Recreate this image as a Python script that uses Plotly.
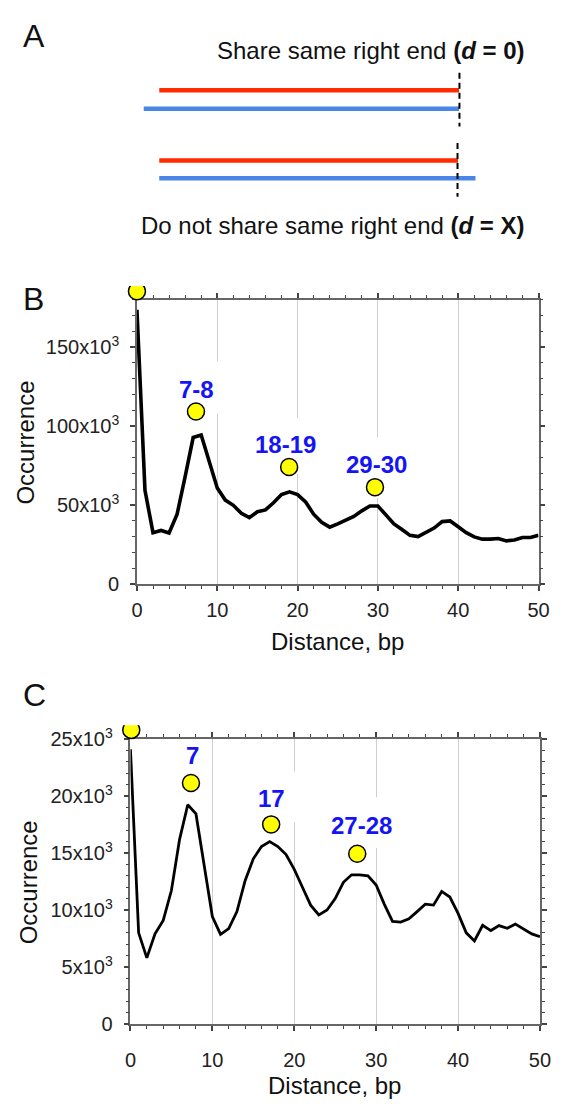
import plotly.graph_objects as go

W, H = 566, 1111
FONT = "Arial, Liberation Sans, Helvetica, sans-serif"

# ---------------- data ----------------
distance = list(range(51))

# Panel B occurrence (x10^3)
occ_B = [173.6, 59.4, 32.6, 34.0, 32.4, 44.3, 68.0, 92.8, 94.4, 77.3,
         60.8, 53.2, 49.9, 44.9, 42.1, 45.8, 47.0, 51.5, 56.7, 58.4,
         56.7, 52.0, 44.3, 39.2, 36.1, 38.1, 40.8, 42.9, 46.4, 49.5,
         49.5, 43.7, 38.1, 34.6, 30.9, 30.1, 32.6, 35.5, 39.6, 40.0,
         36.3, 32.6, 29.9, 28.5, 28.5, 28.9, 27.4, 28.0, 29.5, 29.5, 30.9]

# Panel C occurrence (x10^3)
occ_C = [24.1, 8.0, 5.8, 7.91, 9.09, 11.71, 16.2, 19.23, 18.43, 13.86,
         9.43, 7.86, 8.37, 9.86, 12.57, 14.49, 15.57, 16.0, 15.57, 14.86,
         13.57, 12.0, 10.43, 9.57, 10.0, 11.0, 12.43, 13.09, 13.09, 13.0,
         12.2, 10.5, 9.0, 8.94, 9.23, 9.86, 10.51, 10.43, 11.63, 11.14,
         9.71, 8.0, 7.29, 8.66, 8.2, 8.63, 8.4, 8.77, 8.37, 7.91, 7.66]

# yellow peak markers
peak_x_B = [0, 7.35, 18.95, 29.64]
peak_y_B = [185.4, 109.3, 74.2, 61.4]
peak_x_C = [0.1, 7.39, 17.18, 27.69]
peak_y_C = [25.8, 21.14, 17.51, 14.94]

# peak labels
lab_text_B = ["7-8", "18-19", "29-30"]
lab_x_B = [7.38, 18.46, 29.83]
lab_y_B = [123.3, 88.2, 75.9]
lab_text_C = ["7", "17", "27-28"]
lab_x_C = [7.6, 17.23, 28.16]
lab_y_C = [23.58, 19.8, 17.43]

# ticks
x_ticks = [0, 10, 20, 30, 40, 50]
y_ticks_B = [0, 50, 100, 150]
y_text_B = ["0", "50x10<sup>3</sup>", "100x10<sup>3</sup>", "150x10<sup>3</sup>"]
y_ticks_C = [0, 5, 10, 15, 20, 25]
y_text_C = ["0", "5x10<sup>3</sup>", "10x10<sup>3</sup>", "15x10<sup>3</sup>",
            "20x10<sup>3</sup>", "25x10<sup>3</sup>"]

XR = [0, 50]
YR_B = [0, 180]
YR_C = [0, 25]


def px(x):
    return x / W


def py(y):
    return 1 - y / H


# plot-area pixel boxes (left, right, top, bottom)
BOX_B = (135, 549, 292.3, 583.3)
BOX_C = (128.3, 550.5, 741.7, 1033.3)
PAD = 14  # extra room for overlay axes carrying the peak markers


def overlay_ranges(box, xr, yr):
    l, r, t, b = box
    sx = (xr[1] - xr[0]) / (r - l)
    sy = (yr[1] - yr[0]) / (b - t)
    xd = [px(l - PAD), px(r + PAD)]
    yd = [py(b + PAD), py(t - PAD)]
    xrange_ = [xr[0] - PAD * sx, xr[1] + PAD * sx]
    yrange_ = [yr[0] - PAD * sy, yr[1] + PAD * sy]
    return xd, yd, xrange_, yrange_


fig = go.Figure()

fig.add_trace(go.Scatter(x=distance, y=occ_B, mode="lines",
                         line=dict(color="black", width=3.6),
                         xaxis="x", yaxis="y", showlegend=False))
fig.add_trace(go.Scatter(x=distance, y=occ_C, mode="lines",
                         line=dict(color="black", width=2.8),
                         xaxis="x2", yaxis="y2", showlegend=False))

marker_style = dict(size=17, color="#FFFF00", line=dict(color="black", width=1.5))
fig.add_trace(go.Scatter(x=peak_x_B, y=peak_y_B, mode="markers", marker=marker_style,
                         xaxis="x3", yaxis="y3", showlegend=False))
fig.add_trace(go.Scatter(x=peak_x_C, y=peak_y_C, mode="markers", marker=marker_style,
                         xaxis="x4", yaxis="y4", showlegend=False))

axis_common = dict(
    showline=True, linecolor="#666666", linewidth=1.5, mirror="ticks",
    ticks="outside", ticklen=5, tickwidth=1.5, tickcolor="#444444",
    tickfont=dict(family=FONT, size=20, color="#222222"),
    zeroline=False,
)
xaxis_common = dict(axis_common, range=XR, tickvals=x_ticks,
                    showgrid=True, gridcolor="#cfcfcf", gridwidth=1.2,
                    minor=dict(dtick=2, ticks="outside", ticklen=3, tickwidth=1,
                               tickcolor="#444444", showgrid=False))
hidden = dict(visible=False, showgrid=False, zeroline=False, fixedrange=True)

xd3, yd3, xr3, yr3 = overlay_ranges(BOX_B, XR, YR_B)
xd4, yd4, xr4, yr4 = overlay_ranges(BOX_C, XR, YR_C)

fig.update_layout(
    width=W, height=H,
    margin=dict(l=0, r=0, t=0, b=0),
    paper_bgcolor="white", plot_bgcolor="rgba(0,0,0,0)",
    font=dict(family=FONT, color="#111111"),
    xaxis=dict(xaxis_common, domain=[px(BOX_B[0]), px(BOX_B[1])], anchor="y",
               ticklabelstandoff=2),
    yaxis=dict(axis_common, domain=[py(BOX_B[3]), py(BOX_B[2])], anchor="x",
               range=YR_B, tickvals=y_ticks_B, ticktext=y_text_B, showgrid=False,
               ticklabelstandoff=7,
               minor=dict(dtick=10, ticks="outside", ticklen=3, tickwidth=1,
                          tickcolor="#444444", showgrid=False)),
    xaxis2=dict(xaxis_common, domain=[px(BOX_C[0]), px(BOX_C[1])], anchor="y2",
                ticklabelstandoff=12),
    yaxis2=dict(axis_common, domain=[py(BOX_C[3]), py(BOX_C[2])], anchor="x2",
                range=YR_C, tickvals=y_ticks_C, ticktext=y_text_C, showgrid=False,
                ticklabelstandoff=7,
                minor=dict(dtick=1, ticks="outside", ticklen=3, tickwidth=1,
                           tickcolor="#444444", showgrid=False)),
    xaxis3=dict(hidden, domain=xd3, range=xr3, anchor="y3"),
    yaxis3=dict(hidden, domain=yd3, range=yr3, anchor="x3"),
    xaxis4=dict(hidden, domain=xd4, range=xr4, anchor="y4"),
    yaxis4=dict(hidden, domain=yd4, range=yr4, anchor="x4"),
)

shapes = []
annotations = []

# white boxes behind labels (interrupt the grid lines)
gaps_B = [(5.0, 10.6, 108, 141), (14.3, 22.6, 70, 105), (25.6, 34.0, 54.6, 92.8)]
gaps_C = [(15.3, 20.4, 17.7, 22.14), (24.0, 32.3, 15.43, 19.86)]
for x0, x1, y0, y1 in gaps_B:
    shapes.append(dict(type="rect", xref="x", yref="y", x0=x0, x1=x1, y0=y0, y1=y1,
                       fillcolor="white", line=dict(width=0), layer="between"))
for x0, x1, y0, y1 in gaps_C:
    shapes.append(dict(type="rect", xref="x2", yref="y2", x0=x0, x1=x1, y0=y0, y1=y1,
                       fillcolor="white", line=dict(width=0), layer="between"))

for t, x, y in zip(lab_text_B, lab_x_B, lab_y_B):
    annotations.append(dict(text="<b>%s</b>" % t, x=x, y=y, xref="x", yref="y",
                            showarrow=False, xanchor="center", yanchor="middle",
                            font=dict(family=FONT, size=24, color="#1414F5")))
for t, x, y in zip(lab_text_C, lab_x_C, lab_y_C):
    annotations.append(dict(text="<b>%s</b>" % t, x=x, y=y, xref="x2", yref="y2",
                            showarrow=False, xanchor="center", yanchor="middle",
                            font=dict(family=FONT, size=24, color="#1414F5")))

title_font = dict(family=FONT, size=24, color="#111111")
annotations += [
    dict(text="Occurrence", x=px(20), y=py(438), xref="paper", yref="paper",
         textangle=-90, showarrow=False, xanchor="center", yanchor="middle",
         font=title_font),
    dict(text="Distance, bp", x=px(342), y=py(642), xref="paper", yref="paper",
         showarrow=False, xanchor="center", yanchor="middle", font=title_font),
    dict(text="Occurrence", x=px(23), y=py(888), xref="paper", yref="paper",
         textangle=-90, showarrow=False, xanchor="center", yanchor="middle",
         font=title_font),
    dict(text="Distance, bp", x=px(339), y=py(1096), xref="paper", yref="paper",
         showarrow=False, xanchor="center", yanchor="middle", font=title_font),
]

letter_font = dict(family=FONT, size=32, color="#111111")
for letter, lx, ly in [("A", 29, 23), ("B", 28, 292), ("C", 29, 697)]:
    annotations.append(dict(text=letter, x=px(lx), y=py(ly), xref="paper", yref="paper",
                            showarrow=False, xanchor="center", yanchor="middle",
                            font=letter_font))

# ---------------- panel A (schematic) ----------------
RED, BLUE = "#FF2A00", "#4A86E8"
segments = [(158, 467, 78, RED), (142, 467, 97, BLUE),
            (158, 466, 150, RED), (158, 484, 168, BLUE)]
for x0, x1, y, c in segments:
    shapes.append(dict(type="line", xref="paper", yref="paper",
                       x0=px(x0), x1=px(x1), y0=py(y), y1=py(y),
                       line=dict(color=c, width=4.5)))
dashes = [(467.5, 60, 115), (465.5, 132, 187)]
for x, y0, y1 in dashes:
    shapes.append(dict(type="line", xref="paper", yref="paper",
                       x0=px(x), x1=px(x), y0=py(y0), y1=py(y1),
                       line=dict(color="black", width=2, dash="6px,4px")))

annotations += [
    dict(text="Share same right end <b>(<i>d</i> = 0)</b>", x=px(537), y=py(37),
         xref="paper", yref="paper", xanchor="right", yanchor="middle",
         showarrow=False, font=dict(family=FONT, size=24, color="#111111")),
    dict(text="Do not share same right end <b>(<i>d</i> = X)</b>", x=px(537), y=py(216),
         xref="paper", yref="paper", xanchor="right", yanchor="middle",
         showarrow=False, font=dict(family=FONT, size=24, color="#111111")),
]

fig.update_layout(shapes=shapes, annotations=annotations)
fig.write_html("out.html", config={"displayModeBar": False},
               post_script="document.body.style.margin='0';"
                           "document.body.style.overflow='hidden';")
